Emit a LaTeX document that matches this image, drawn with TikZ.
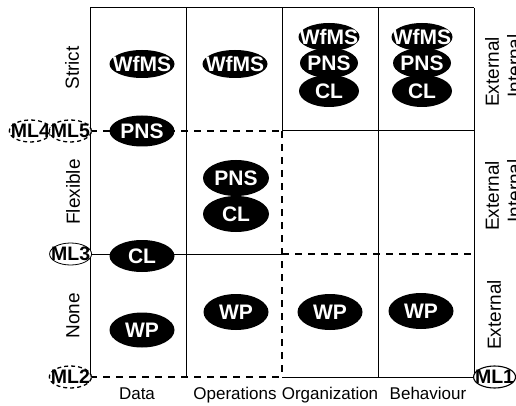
\documentclass[tikz,border=0pt]{standalone}
\usepackage{fontspec}
\setmainfont{Liberation Sans}
\usetikzlibrary{shapes.geometric}
\begin{document}
\begin{tikzpicture}[x=1pt,y=-1pt,
  solidline/.style={line width=1pt},
  dashline/.style={line width=2pt, dash pattern=on 7pt off 6pt},
  blob/.style={ellipse, fill=black, inner sep=0pt, minimum width=65pt, minimum height=32pt},
  blobtext/.style={text=white, font=\fontsize{21}{24}\selectfont\bfseries, inner sep=0pt},
  mlbase/.style={ellipse, fill=white, inner sep=0pt, minimum width=42pt, minimum height=22pt},
  mlsolid/.style={mlbase, draw, line width=0.8pt},
  mldash/.style={mlbase, draw, line width=1.3pt, dash pattern=on 4pt off 3pt},
  mltext/.style={font=\fontsize{19.5}{22}\selectfont\bfseries, inner sep=0pt},
  axis/.style={font=\fontsize{19}{22}\selectfont, inner sep=0pt},
  baxis/.style={font=\fontsize{17}{20}\selectfont, inner sep=0pt, anchor=base},
  ]
\useasboundingbox (0,0) rectangle (516,406);
% grid corners
\foreach \i/\x in {0/90,1/186,2/282,3/378,4/474}
  \foreach \j/\y in {0/8,1/131,2/254,3/377}
    \coordinate (g\i\j) at (\x,\y);
% solid grid lines
\draw[solidline] (g00) -- (g40);
\draw[solidline] (g00) -- (g03);
\draw[solidline] (g40) -- (g43);
\draw[solidline] (g10) -- (g13);
\draw[solidline] (g20) -- (g21);
\draw[solidline] (g30) -- (g33);
\draw[solidline] (g21) -- (g41);
\draw[solidline] (g02) -- (g22);
\draw[solidline] (g23) -- (g43);
% dashed boundary lines
\draw[dashline] (g01) -- (g21);
\draw[dashline] (g21) -- (g23);
\draw[dashline] (g22) -- (g42);
\draw[dashline] (g03) -- (g23);
% level markers
\node[mldash, anchor=east] (ml4) at (52,131) {};
\node[mltext] (ml4t) at (ml4) {ML4};
\node[mldash, anchor=east] (ml5) at (92,131) {};
\node[mltext] (ml5t) at (ml5) {ML5};
\node[mlsolid, anchor=east] (ml3) at (92,254) {};
\node[mltext] (ml3t) at (ml3) {ML3};
\node[mldash, anchor=east] (ml2) at (92,377) {};
\node[mltext] (ml2t) at (ml2) {ML2};
\node[mlsolid, line width=1.1pt, anchor=west] (ml1) at (473,377) {};
\node[mltext] (ml1t) at (ml1) {ML1};
% Data column
\node[blob, minimum height=28pt] (dwf) at (142,64) {};
\node[blobtext] at (dwf) {WfMS};
\node[blob, minimum height=31pt] (dpns) at (142,131) {};
\node[blobtext] at (dpns) {PNS};
\node[blob] (dcl) at (142,256) {};
\node[blobtext] at (dcl) {CL};
\node[blob, minimum height=35pt] (dwp) at (142,330) {};
\node[blobtext] at (dwp) {WP};
% Operations column
\node[blob, minimum height=28pt] (owf) at (235,64) {};
\node[blobtext] at (owf) {WfMS};
\node[blob, minimum width=66pt, minimum height=36pt] (opns) at (236,178) {};
\node[blobtext] at (opns) {PNS};
\node[blob, minimum width=66pt, minimum height=36pt] (ocl) at (236,214) {};
\node[blobtext] at (ocl) {CL};
\node[blob, minimum height=36pt] (owp) at (236,312) {};
\node[blobtext] at (owp) {WP};
% Organization column
\node[blob, minimum width=61pt, minimum height=28pt] (gwf) at (329,37) {};
\node[blobtext] at (gwf) {WfMS};
\node[blob, minimum width=58pt, minimum height=30pt] (gpns) at (329,63) {};
\node[blobtext] at (gpns) {PNS};
\node[blob, minimum width=60pt, minimum height=32pt] (gcl) at (329,91) {};
\node[blobtext] at (gcl) {CL};
\node[blob, minimum height=36pt] (gwp) at (330,312) {};
\node[blobtext] at (gwp) {WP};
% Behaviour column
\node[blob, minimum width=61pt, minimum height=28pt] (bwf) at (422,37) {};
\node[blobtext] at (bwf) {WfMS};
\node[blob, minimum width=58pt, minimum height=30pt] (bpns) at (422,63) {};
\node[blobtext] at (bpns) {PNS};
\node[blob, minimum width=60pt, minimum height=32pt] (bcl) at (422,91) {};
\node[blobtext] at (bcl) {CL};
\node[blob, minimum height=36pt] (bwp) at (421,311) {};
\node[blobtext] at (bwp) {WP};
% left axis labels
\node[axis, rotate=90] (strict) at (72,68) {Strict};
\node[axis, rotate=90] (flex) at (73,192) {Flexible};
\node[axis, rotate=90] (none) at (73,316) {None};
% right axis labels
\node[axis, rotate=90] (ext1) at (492,72) {External};
\node[axis, rotate=90] (int1) at (514,66) {Internal};
\node[axis, rotate=90] (ext2) at (492,196) {External};
\node[axis, rotate=90] (int2) at (514,191) {Internal};
\node[axis, rotate=90] (ext3) at (494,315) {External};
% bottom axis labels
\node[baxis] (data) at (137,399) {Data};
\node[baxis] (ops) at (235,399) {Operations};
\node[baxis] (org) at (330,399) {Organization};
\node[baxis] (beh) at (428,399) {Behaviour};
\end{tikzpicture}
\end{document}
